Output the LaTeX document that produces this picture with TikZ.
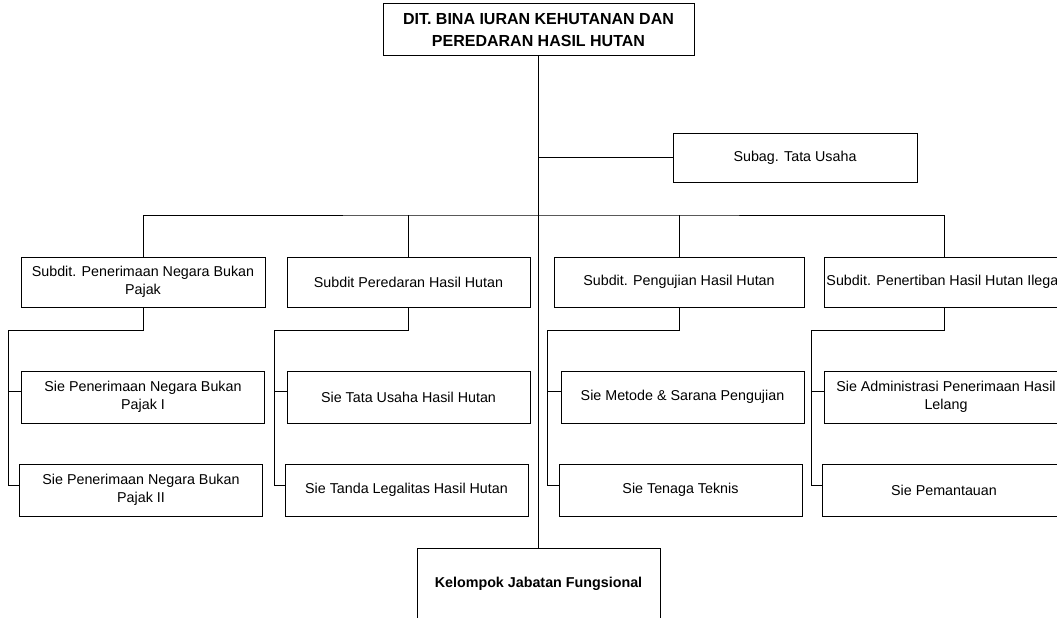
\documentclass[tikz,border=0pt]{standalone}
\usepackage{fontspec}
\setmainfont{Liberation Sans}
\usepackage{tikz}
\usetikzlibrary{positioning, calc}

\begin{document}
\begin{tikzpicture}[x=1pt, y=-1pt, line width=1pt,
    unitbox/.style={draw, line width=1pt, align=center, inner sep=2pt, font=\fontsize{14.3}{18}\selectfont},
    subbox/.style={unitbox, minimum height=50pt},
    siebox/.style={unitbox, minimum width=243pt, minimum height=52pt}]
    \useasboundingbox (0,0) rectangle (1057,618);
    \clip (0,0) rectangle (1057,618);
    % Head and staff units
    \node[unitbox, minimum width=311pt, minimum height=52pt, font=\fontsize{16}{22}\selectfont\bfseries] (dir) at (538.5,30) {DIT. BINA IURAN KEHUTANAN DAN\\PEREDARAN HASIL HUTAN};
    \node[unitbox, minimum width=244pt, minimum height=49pt] (tu) at (795,157.5) {Subag. Tata Usaha};
    \node[unitbox, minimum width=243pt, minimum height=72pt, font=\fontsize{14.3}{18}\selectfont\bfseries] (kel) at (538.5,584) {Kelompok Jabatan Fungsional};
    % Subdit boxes
    \foreach \g/\cx/\w/\t in {1/143/244/{Subdit. Penerimaan Negara Bukan\\Pajak}, 2/408.5/243/{Subdit Peredaran Hasil Hutan}, 3/679/250/{Subdit. Pengujian Hasil Hutan}, 4/944/240/{Subdit. Penertiban Hasil Hutan Ilegal}} {
        \node[subbox, minimum width=\w pt] (sub\g) at (\cx,282) {\t};
    }
    % Sie boxes
    \foreach \g/\cx/\ta/\tb in {1/143/{Sie Penerimaan Negara Bukan\\Pajak I}/{Sie Penerimaan Negara Bukan\\Pajak II}, 2/408.5/{Sie Tata Usaha Hasil Hutan}/{Sie Tanda Legalitas Hasil Hutan}, 3/682.5/{Sie Metode \& Sarana Pengujian}/{Sie Tenaga Teknis}, 4/946/{Sie Administrasi Penerimaan Hasil\\Lelang}/{Sie Pemantauan}} {
        \node[siebox] (siea\g) at (\cx,397) {\ta};
        \node[siebox] (sieb\g) at ({\cx-2},490) {\tb};
    }
    % Main lines
    \coordinate (hub) at (538.5,215);
    \draw (dir.south) -- (kel.north);
    \draw (dir.south |- tu.west) -- (tu.west);
    \draw (sub1.north) |- (hub) -| (sub4.north);
    \draw (sub2.north) -- (sub2.north |- hub);
    \draw (sub3.north) -- (sub3.north |- hub);
    % Sie lines
    \foreach \g/\bx in {1/8, 2/274, 3/547, 4/811} {
        \coordinate (b\g) at (\bx,330);
        \coordinate (ja\g) at ([yshift=6pt]siea\g.west);
        \coordinate (jb\g) at ([yshift=5pt]sieb\g.west);
        \draw (sub\g.south) |- (b\g) |- (jb\g);
        \draw (ja\g) -- (b\g |- ja\g);
    }
\end{tikzpicture}
\end{document}
